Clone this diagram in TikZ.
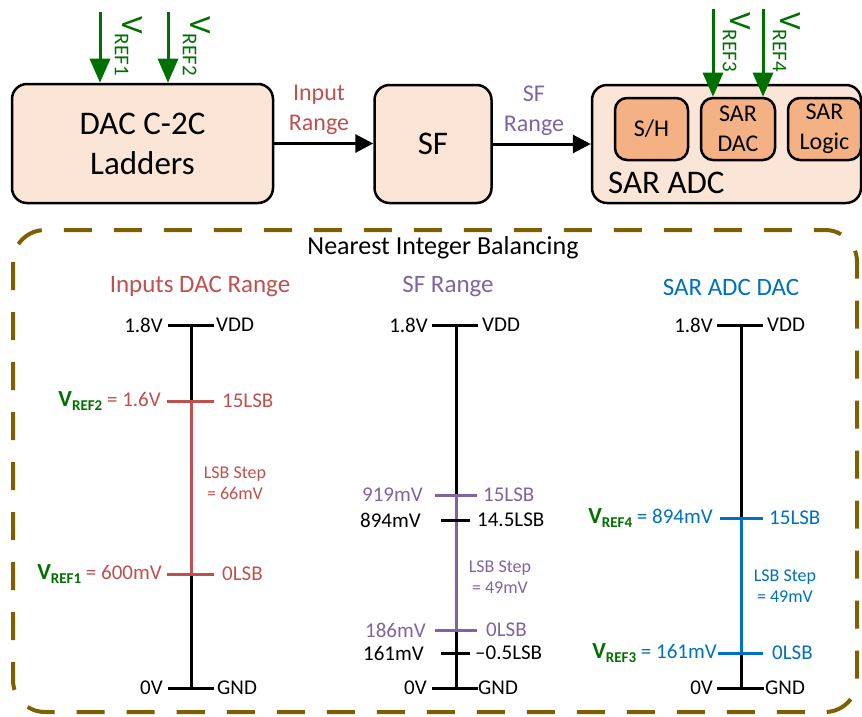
\documentclass[tikz,border=0pt]{standalone}
\usepackage{fontspec}
\setmainfont{Carlito}
\usetikzlibrary{arrows.meta}
\definecolor{cred}{HTML}{C0504D}
\definecolor{cpurple}{HTML}{8064A2}
\definecolor{cblue}{HTML}{0070C0}
\definecolor{cgreen}{HTML}{007000}
\definecolor{cgold}{HTML}{7F6000}
\definecolor{boxfill}{HTML}{FBE5D6}
\definecolor{iboxfill}{HTML}{F4B183}
\newcommand\fs[1]{\fontsize{#1}{#1}\selectfont}
\newcommand\vrefl[1]{\textcolor{cgreen}{\textbf{\fs{23}V\raisebox{-0.2em}{\fs{15}#1}}}}
\newcommand\vreft[1]{V\raisebox{-0.23em}{\fs{21}#1}}
\begin{document}
\begin{tikzpicture}[x=1pt,y=-1pt,
  bigbox/.style={draw, line width=2.5pt, rounded corners=15pt, fill=boxfill, inner sep=0pt},
  ibox/.style={draw, line width=2.5pt, rounded corners=12pt, fill=iboxfill, inner sep=0pt, align=center, font=\fs{24}},
  flow/.style={-{Triangle[length=18pt,width=18pt]}, line width=3pt},
  vrefarrow/.style={cgreen, line width=3pt, -{Triangle[length=24pt,width=20pt]}},
  vreftxt/.style={cgreen, rotate=-90, anchor=base west, inner sep=0pt, font=\fs{31}},
  axis/.style={line width=3pt},
  lbl/.style={inner sep=0pt, font=\fs{21}},
  steptxt/.style={inner sep=0pt, align=center, font=\fs{18}},
  title/.style={inner sep=0pt, font=\fs{25}},
  rangetxt/.style={inner sep=0pt, align=center, font=\fontsize{24}{30}\selectfont}
]
\useasboundingbox (0,0) rectangle (862,717);

% ---------- top block diagram ----------
\node[bigbox, minimum width=261pt, minimum height=119pt, align=center,
      font=\fontsize{33}{40}\selectfont] (dac) at (142.5,143.5) {DAC C-2C\\Ladders};
\node[bigbox, minimum width=117pt, minimum height=118pt, font=\fs{33}] (sf) at (433,144) {SF};
\node[bigbox, minimum width=269pt, minimum height=118pt] (adc) at (726.5,144) {};
\node[ibox, minimum width=73pt, minimum height=62pt] (sh) at (651.5,129) {S/H};
\node[ibox, minimum width=74pt, minimum height=62pt, font=\fontsize{24}{30}\selectfont] (sardac) at (738,129) {SAR\\DAC};
\node[ibox, minimum width=73pt, minimum height=62pt, font=\fontsize{24}{30}\selectfont] (sarlogic) at (824.5,129) {SAR\\Logic};
\node[inner sep=0pt, anchor=west, font=\fs{33}] (adclbl) at (608,183) {SAR ADC};

\draw[flow] (dac.east) -- (dac.east -| sf.west);
\draw[flow] (sf.east) -- (sf.east -| adc.west);
\node[rangetxt, cred] (inr) at (319,110) {Input\\Range};
\node[rangetxt, cpurple] (sfr) at (534,111) {SF\\Range};

\coordinate (v1s) at (100,12);
\coordinate (v2s) at (168,12);
\coordinate (v3s) at (713,9);
\coordinate (v4s) at (763,9);
\draw[vrefarrow] (v1s) -- (v1s |- dac.north);
\draw[vrefarrow] (v2s) -- (v2s |- dac.north);
\draw[vrefarrow] (v3s) -- (v3s |- sardac.north);
\draw[vrefarrow] (v4s) -- (v4s |- sardac.north);
\node[vreftxt] (v1t) at (122,16) {\vreft{REF1}};
\node[vreftxt] (v2t) at (190,16) {\vreft{REF2}};
\node[vreftxt] (v3t) at (730,12) {\vreft{REF3}};
\node[vreftxt] (v4t) at (780,12) {\vreft{REF4}};

% ---------- dashed frame ----------
\draw[cgold, line width=4pt, dash pattern=on 28pt off 22pt, rounded corners=32pt]
  (13,230) rectangle (857,712);
\node[inner sep=0pt, font=\fs{26}] (nib) at (443,248) {Nearest Integer Balancing};

% ---------- column 1 ----------
\node[title, cred] (t1) at (200,287) {Inputs DAC Range};
\coordinate (a1t) at (191,325);
\coordinate (a1b) at (191,688);
\draw[axis] (a1t) -- (a1b);
\draw[axis, cred] (191,401) -- (191,574);
\draw[axis] (168,325) -- (214,325);
\draw[axis] (168,688) -- (214,688);
\draw[axis, cred] (167,401) -- (214,401);
\draw[axis, cred] (167,574) -- (214,574);
\node[lbl, anchor=east] at (163,325) {1.8V};
\node[lbl, anchor=west] at (216,325) {VDD};
\node[lbl, anchor=east] at (163,688) {0V};
\node[lbl, anchor=west] at (217,688) {GND};
\node[lbl, anchor=east, cred] at (161,401) {\vrefl{REF2} = 1.6V};
\node[lbl, anchor=west, cred] at (222,401) {15LSB};
\node[lbl, anchor=east, cred] at (162,574) {\vrefl{REF1} = 600mV};
\node[lbl, anchor=west, cred] at (222,574) {0LSB};
\node[steptxt, cred] at (235,483) {LSB Step\\[3pt]= 66mV};

% ---------- column 2 ----------
\node[title, cpurple] (t2) at (448,287) {SF Range};
\coordinate (a2t) at (456,325);
\coordinate (a2b) at (456,688);
\draw[axis] (a2t) -- (a2b);
\draw[axis, cpurple] (456,495) -- (456,630);
\draw[axis] (432,325) -- (478,325);
\draw[axis] (432,688) -- (478,688);
\draw[axis, cpurple] (435,495) -- (477,495);
\draw[axis, cpurple] (435,630) -- (477,630);
\draw[axis] (441,520) -- (470,520);
\draw[axis] (441,653) -- (470,653);
\node[lbl, anchor=east] at (428,325) {1.8V};
\node[lbl, anchor=west] at (482,325) {VDD};
\node[lbl, anchor=east] at (427,688) {0V};
\node[lbl, anchor=west] at (478,688) {GND};
\node[lbl, anchor=east, cpurple] at (423,495) {919mV};
\node[lbl, anchor=west, cpurple] at (483,495) {15LSB};
\node[lbl, anchor=east] at (421,520) {894mV};
\node[lbl, anchor=west] at (477,520) {14.5LSB};
\node[lbl, anchor=east, cpurple] at (426,630) {186mV};
\node[lbl, anchor=west, cpurple] at (486,630) {0LSB};
\node[lbl, anchor=east] at (424,653) {161mV};
\node[lbl, anchor=west] at (475,653) {–0.5LSB};
\node[steptxt, cpurple] at (500,577) {LSB Step\\[3pt]= 49mV};

% ---------- column 3 ----------
\node[title, cblue] (t3) at (731,287) {SAR ADC DAC};
\coordinate (a3t) at (741,325);
\coordinate (a3b) at (741,688);
\draw[axis] (a3t) -- (a3b);
\draw[axis, cblue] (741,518) -- (741,653);
\draw[axis] (717,325) -- (763,325);
\draw[axis] (717,688) -- (764,688);
\draw[axis, cblue] (720,518) -- (763,518);
\draw[axis, cblue] (718,653) -- (763,653);
\node[lbl, anchor=east] at (713,325) {1.8V};
\node[lbl, anchor=west] at (767,325) {VDD};
\node[lbl, anchor=east] at (713,688) {0V};
\node[lbl, anchor=west] at (765,688) {GND};
\node[lbl, anchor=east, cblue] at (713,518) {\vrefl{REF4} = 894mV};
\node[lbl, anchor=west, cblue] at (769,518) {15LSB};
\node[lbl, anchor=east, cblue] at (717,653) {\vrefl{REF3} = 161mV};
\node[lbl, anchor=west, cblue] at (772,653) {0LSB};
\node[steptxt, cblue] at (785,586) {LSB Step\\[3pt]= 49mV};
\end{tikzpicture}
\end{document}
